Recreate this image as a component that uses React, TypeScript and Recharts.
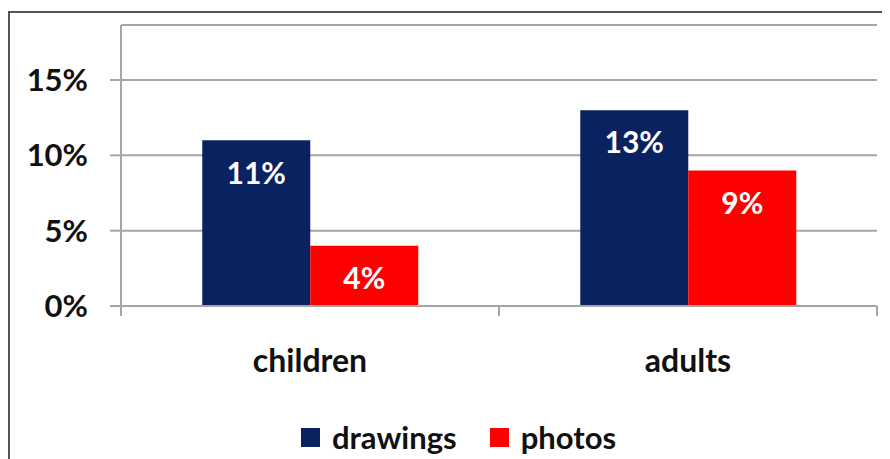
import React from 'react'
import {
  BarChart, Bar, XAxis, YAxis, CartesianGrid, Legend, LabelList, ReferenceLine,
} from 'recharts'

const groups = ['children', 'adults']
const drawings = [11, 13]
const photos = [4, 9]
const yTicks = [0, 5, 10, 15]

const data = groups.map((g, i) => ({ group: g, drawings: drawings[i], photos: photos[i] }))

// category boundary ticks under the x axis: start of every group plus end of the last
const edges: { x: string; position: 'start' | 'end' }[] = [
  ...groups.map((g) => ({ x: g, position: 'start' as const })),
  { x: groups[groups.length - 1], position: 'end' },
]

const FONT = 'Lato, "Open Sans", sans-serif'
const GRID = '#a6a6a6'

function LegendBox({ payload }: { payload?: { value: string; color: string }[] }) {
  return (
    <div style={{
      height: 50, boxSizing: 'border-box', paddingTop: 6, paddingLeft: 32,
      display: 'flex', justifyContent: 'center', alignItems: 'center', gap: 33,
      fontFamily: FONT, fontWeight: 700, fontSize: 31, color: '#111',
    }}>
      {(payload ?? []).map((p) => (
        <div key={p.value} style={{ display: 'flex', alignItems: 'center', gap: 12 }}>
          <span style={{ width: 19, height: 19, background: p.color, display: 'inline-block' }} />
          <span>{p.value}</span>
        </div>
      ))}
    </div>
  )
}

export default function App() {
  return (
    <div style={{ position: 'relative', width: 882, height: 451, overflow: 'hidden', fontFamily: FONT }}>
      <div style={{
        position: 'absolute', left: 0, top: 3, width: 1000, height: 1000,
        borderTop: '2px solid #555', borderLeft: '2px solid #555',
      }} />
      <BarChart
        width={882}
        height={451}
        data={data}
        margin={{ top: 17, right: 13, left: 0, bottom: 0 }}
        barCategoryGap="21.5%"
        barGap={0}
        style={{ position: 'absolute', left: 0, top: 0 }}
      >
        <CartesianGrid vertical={false} stroke={GRID} strokeWidth={2} />
        <XAxis
          dataKey="group"
          height={103}
          axisLine={{ stroke: GRID, strokeWidth: 2 }}
          tickLine={false}
          tickSize={0}
          tickMargin={43}
          tick={{ fill: '#111', fontSize: 32, fontWeight: 700, fontFamily: FONT }}
        />
        <YAxis
          width={113}
          domain={[0, 18.65]}
          ticks={yTicks}
          allowDataOverflow
          tickFormatter={(v) => `${v}%`}
          tickSize={11}
          tickMargin={22}
          tickLine={{ stroke: GRID, strokeWidth: 2 }}
          axisLine={{ stroke: GRID, strokeWidth: 2 }}
          tick={{ fill: '#111', fontSize: 31, fontWeight: 700, fontFamily: FONT }}
        />
        {edges.map((e, i) => (
          <ReferenceLine
            key={i}
            segment={[{ x: e.x, y: 0 }, { x: e.x, y: -0.66 }]}
            position={e.position}
            ifOverflow="visible"
            stroke={GRID}
            strokeWidth={2}
          />
        ))}
        <Legend verticalAlign="bottom" content={<LegendBox />} />
        <Bar dataKey="drawings" fill="#0b2260" isAnimationActive={false}>
          <LabelList
            dataKey="drawings"
            position="insideTop"
            offset={22}
            formatter={(v: number) => `${v}%`}
            style={{ fill: '#fff', fontSize: 30, fontWeight: 700, fontFamily: FONT }}
          />
        </Bar>
        <Bar dataKey="photos" fill="#ff0000" isAnimationActive={false}>
          <LabelList
            dataKey="photos"
            position="insideTop"
            offset={22}
            formatter={(v: number) => `${v}%`}
            style={{ fill: '#fff', fontSize: 30, fontWeight: 700, fontFamily: FONT }}
          />
        </Bar>
      </BarChart>
    </div>
  )
}
